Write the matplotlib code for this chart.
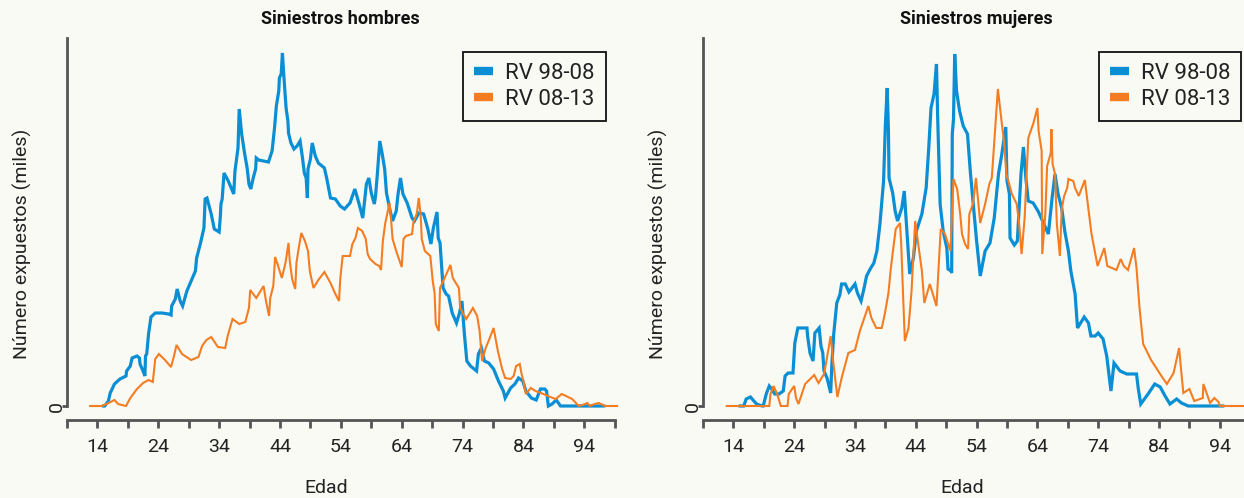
import matplotlib
matplotlib.use("Agg")
import matplotlib.pyplot as plt
from matplotlib.lines import Line2D

plt.rcParams['font.family'] = ['Roboto', 'DejaVu Sans']

# ---------------- data (thousands, arbitrary scale) ----------------
series_labels = ["RV 98-08", "RV 08-13"]
panel_titles = ["Siniestros hombres", "Siniestros mujeres"]
x_label = "Edad"
y_label = "Número expuestos (miles)"
x_ticks = list(range(9, 100, 5))
x_ticklabels = [str(t) if (t - 14) % 10 == 0 else "" for t in x_ticks]

# Hombres, RV 98-08
age_h_9808 = [
    15.0, 15.2, 15.8, 16.1, 16.8, 17.7, 18.7, 18.8, 19.4, 19.7,
    20.5, 20.9, 21.0, 21.5, 21.8, 21.9, 22.1, 22.4, 22.8, 23.5,
    24.6, 25.7, 26.1, 26.2, 26.8, 27.1, 27.6, 28.0, 28.7, 29.4,
    30.1, 30.3, 30.9, 31.5, 31.7, 32.0, 32.7, 33.2, 34.0, 34.2,
    34.3, 34.5, 34.8, 35.5, 36.4, 36.6, 37.1, 37.3, 37.7, 38.2,
    38.6, 38.9, 39.2, 39.6, 40.0, 40.1, 40.5, 42.1, 42.7, 43.1,
    43.4, 43.8, 43.9, 44.2, 44.4, 44.6, 45.0, 45.3, 45.4, 45.8,
    46.3, 46.8, 47.3, 47.7, 48.0, 48.3, 48.5, 48.6, 49.0, 49.3,
    49.8, 50.3, 51.3, 51.7, 52.3, 53.1, 53.9, 54.6, 55.5, 56.3,
    57.0, 57.6, 58.2, 58.6, 59.0, 59.5, 59.7, 60.0, 60.4, 60.8,
    61.2, 61.5, 62.0, 62.5, 63.1, 63.4, 63.8, 64.2, 64.9, 65.7,
    66.1, 66.8, 67.6, 68.3, 68.8, 69.2, 69.8, 70.0, 70.3, 70.8,
    71.3, 71.7, 72.3, 73.0, 73.5, 73.9, 74.3, 74.7, 75.3, 76.3,
    76.6, 77.1, 77.6, 78.3, 79.1, 79.9, 80.7, 81.0, 81.9, 82.6,
    83.2, 83.9, 84.4, 85.3, 86.1, 86.8, 87.5, 87.8, 88.1, 88.7,
    89.4, 90.1, 97.2]
exp_h_9808 = [
    0, 0, 5, 13, 22, 27, 30, 35, 40, 48,
    50, 48, 42, 35, 30, 50, 52, 72, 89, 93,
    93, 92, 91, 100, 107, 117, 105, 100, 115, 125,
    135, 148, 162, 178, 207, 208, 192, 177, 174, 190,
    202, 207, 233, 225, 212, 235, 258, 297, 272, 252,
    238, 222, 217, 228, 237, 248, 246, 244, 255, 278,
    300, 315, 328, 332, 353, 333, 298, 285, 273, 263,
    257, 260, 265, 248, 233, 228, 208, 237, 247, 263,
    250, 243, 238, 227, 208, 207, 200, 197, 203, 217,
    202, 188, 222, 228, 213, 202, 210, 232, 265, 252,
    237, 213, 198, 185, 195, 212, 228, 212, 203, 188,
    185, 193, 192, 177, 162, 178, 194, 168, 163, 118,
    112, 110, 93, 83, 93, 105, 72, 45, 40, 35,
    52, 58, 45, 43, 37, 25, 15, 8, 18, 22,
    28, 25, 15, 8, 6, 17, 17, 15, 0, 2,
    6, 0, 0]

# Hombres, RV 08-13
age_h_0813 = [
    12.8, 14.7, 15.5, 16.8, 17.4, 18.7, 19.4, 20.5, 21.5, 22.4,
    23.1, 23.5, 24.1, 25.1, 26.1, 26.5, 27.0, 27.9, 29.4, 30.6,
    31.2, 31.9, 32.7, 33.8, 35.0, 35.4, 36.2, 37.3, 38.3, 38.9,
    39.1, 40.1, 41.3, 41.7, 42.2, 42.4, 42.9, 43.2, 43.8, 44.3,
    44.9, 45.4, 45.6, 46.0, 46.5, 46.7, 47.0, 47.5, 48.1, 48.6,
    48.9, 49.5, 50.3, 51.3, 52.3, 53.1, 53.7, 53.9, 54.3, 55.5,
    55.9, 56.4, 56.8, 57.5, 58.1, 58.4, 58.8, 59.7, 60.3, 60.6,
    60.9, 61.3, 62.0, 62.3, 62.5, 63.2, 64.0, 64.3, 64.7, 65.7,
    65.9, 66.5, 66.8, 67.1, 67.3, 67.8, 68.7, 69.1, 69.4, 69.6,
    70.1, 70.3, 71.2, 72.0, 72.4, 73.4, 73.6, 74.6, 75.7, 76.4,
    76.8, 77.2, 77.8, 78.4, 79.1, 79.8, 80.5, 81.0, 81.9, 82.4,
    82.8, 83.4, 83.7, 84.0, 84.4, 85.2, 86.0, 87.3, 88.4, 89.3,
    90.3, 91.0, 92.0, 93.1, 93.7, 94.5, 94.9, 95.7, 96.4, 97.4,
    99.4]
exp_h_0813 = [
    0, 0, 2, 6, 2, 0, 8, 17, 23, 26,
    24, 47, 52, 46, 39, 48, 61, 52, 46, 49,
    60, 66, 69, 59, 58, 70, 87, 82, 84, 98,
    116, 108, 120, 105, 90, 108, 120, 149, 138, 128,
    143, 163, 145, 127, 117, 143, 155, 173, 165, 155,
    135, 118, 126, 134, 123, 112, 105, 127, 150, 150,
    162, 168, 178, 175, 167, 152, 147, 142, 140, 136,
    165, 183, 203, 183, 167, 153, 139, 167, 170, 172,
    183, 193, 208, 192, 167, 155, 150, 125, 113, 82,
    75, 118, 130, 141, 128, 118, 98, 87, 98, 90,
    75, 45, 58, 67, 78, 55, 37, 28, 27, 30,
    40, 42, 32, 25, 12, 18, 15, 12, 9, 7,
    12, 10, 7, 0, 1, 3, 0, 2, 3, 0,
    0]

# Mujeres, RV 98-08
age_m_9808 = [
    15.1, 15.7, 16.1, 16.8, 17.8, 18.7, 18.9, 19.4, 19.9, 20.3,
    20.8, 21.5, 22.2, 22.5, 23.0, 23.8, 24.1, 24.6, 26.1, 26.2,
    26.6, 27.1, 27.4, 28.1, 28.4, 28.7, 28.9, 29.4, 30.0, 30.2,
    30.5, 31.0, 31.5, 31.8, 32.4, 33.0, 34.0, 34.4, 35.0, 35.5,
    35.9, 36.5, 37.1, 37.6, 38.1, 38.7, 39.0, 39.3, 39.5, 39.6,
    40.2, 40.6, 41.0, 41.7, 42.1, 42.5, 43.0, 43.6, 44.1, 45.0,
    45.7, 46.1, 46.5, 47.0, 47.4, 47.6, 48.0, 48.5, 49.1, 49.3,
    49.8, 49.9, 50.0, 50.2, 50.4, 50.7, 51.2, 51.8, 52.5, 53.0,
    53.6, 54.0, 54.6, 55.4, 56.2, 56.9, 57.6, 58.1, 58.8, 59.0,
    59.4, 59.5, 60.2, 60.7, 61.3, 61.7, 62.1, 62.5, 63.3, 64.1,
    65.0, 65.8, 66.4, 66.9, 67.4, 68.0, 68.5, 69.1, 69.5, 70.2,
    70.6, 71.7, 72.4, 72.8, 73.5, 74.0, 74.8, 75.4, 75.7, 76.1,
    76.6, 77.6, 78.7, 80.3, 80.6, 81.0, 82.2, 83.3, 84.2, 85.0,
    85.8, 86.9, 87.7, 88.8, 94.5]
exp_m_9808 = [
    0, 0, 7, 9, 2, 0, 0, 12, 20, 17,
    12, 12, 15, 30, 33, 33, 63, 78, 78, 70,
    53, 45, 73, 78, 60, 53, 35, 28, 13, 42,
    72, 103, 111, 122, 122, 114, 122, 113, 105, 118,
    130, 137, 143, 155, 182, 225, 282, 318, 275, 228,
    213, 195, 185, 198, 215, 178, 132, 148, 175, 192,
    218, 255, 298, 312, 342, 288, 202, 175, 158, 137,
    135, 133, 272, 287, 352, 315, 295, 280, 272, 232,
    192, 165, 130, 155, 163, 188, 232, 250, 279, 225,
    212, 168, 161, 165, 232, 259, 228, 205, 203, 195,
    183, 172, 207, 232, 212, 198, 175, 155, 135, 112,
    78, 89, 83, 70, 70, 73, 67, 50, 35, 15,
    43, 35, 32, 32, 17, 2, 12, 22, 19, 10,
    2, 7, 3, 0, 0]

# Mujeres, RV 08-13
age_m_0813 = [
    12.9, 19.9, 20.1, 20.6, 21.2, 21.8, 22.9, 23.1, 24.0, 24.3,
    24.7, 25.8, 27.3, 28.0, 28.9, 29.3, 30.0, 30.4, 31.1, 31.8,
    32.9, 34.0, 34.8, 36.2, 36.7, 37.5, 38.4, 38.9, 39.5, 39.9,
    40.3, 40.7, 41.4, 41.6, 41.9, 42.2, 42.8, 43.3, 43.9, 44.4,
    45.0, 45.4, 46.3, 47.4, 48.1, 48.8, 49.7, 50.2, 50.8, 51.3,
    51.6, 52.1, 52.6, 52.8, 53.4, 53.9, 54.6, 55.4, 56.1, 56.5,
    57.5, 58.1, 58.5, 58.9, 59.8, 60.6, 61.0, 61.4, 61.9, 62.5,
    63.3, 64.0, 64.2, 64.7, 64.8, 65.3, 65.6, 66.2, 66.3, 66.5,
    66.9, 67.2, 67.7, 68.0, 68.4, 68.9, 69.1, 69.9, 70.2, 70.8,
    71.8, 72.9, 73.9, 75.0, 75.5, 77.0, 77.7, 78.2, 78.9, 79.9,
    80.3, 80.8, 81.4, 82.7, 84.4, 85.3, 86.4, 87.3, 88.0, 89.0,
    89.8, 91.2, 91.3, 92.4, 93.1, 93.8, 94.0, 99.5]
exp_m_0813 = [
    0, 0, 12, 20, 12, 0, 0, 12, 20, 8,
    2, 22, 31, 23, 32, 45, 70, 45, 9, 28,
    53, 56, 75, 100, 88, 78, 78, 92, 113, 138,
    158, 177, 183, 162, 112, 65, 78, 115, 185, 162,
    135, 103, 122, 100, 177, 172, 155, 227, 217, 192,
    172, 162, 157, 192, 202, 228, 183, 202, 222, 228,
    317, 285, 265, 232, 212, 202, 182, 152, 188, 268,
    282, 298, 275, 255, 152, 192, 240, 253, 277, 242,
    232, 182, 150, 197, 210, 218, 227, 225, 218, 210,
    226, 172, 140, 158, 140, 136, 147, 140, 136, 158,
    138, 98, 62, 46, 30, 22, 33, 58, 13, 17,
    5, 8, 22, 3, 8, 4, 0, 0]

# ---------------- style ----------------
BG = "#fafaf5"
BLUE = "#0a8fd5"
ORANGE = "#f47d22"
AXC = "#555555"
TXT = "#222222"
W, H = 1244, 498


def rect(x0, x1, ytop, ybot):
    return [x0 / W, 1 - ybot / H, (x1 - x0) / W, (ybot - ytop) / H]


fig = plt.figure(figsize=(W / 100, H / 100), dpi=100, facecolor=BG)

panels = [
    (rect(67, 614.7, 38, 410), panel_titles[0],
     (age_h_9808, exp_h_9808), (age_h_0813, exp_h_0813)),
    (rect(703, 1250.2, 38, 410), panel_titles[1],
     (age_m_9808, exp_m_9808), (age_m_0813, exp_m_0813)),
]

for pos, title, s1, s2 in panels:
    ax = fig.add_axes(pos)
    ax.set_facecolor(BG)
    ax.plot(s1[0], s1[1], color=BLUE, lw=2.3, solid_joinstyle="miter", clip_on=False)
    ax.plot(s2[0], s2[1], color=ORANGE, lw=1.5, solid_joinstyle="miter", clip_on=False)
    ax.set_xlim(9, 99)
    ax.set_ylim(-4, 368)

    for s in ("top", "right"):
        ax.spines[s].set_visible(False)
    ax.spines["left"].set_bounds(0, 368)
    ax.spines["left"].set_color(AXC)
    ax.spines["left"].set_linewidth(2.0)
    ax.spines["bottom"].set_position(("outward", 7.5))
    ax.spines["bottom"].set_bounds(9, 99)
    ax.spines["bottom"].set_color(AXC)
    ax.spines["bottom"].set_linewidth(2.0)

    ax.set_xticks(x_ticks)
    ax.set_xticklabels(x_ticklabels)
    ax.set_yticks([0])
    ax.set_yticklabels(["0"])
    ax.tick_params(axis="x", length=5.5, width=2.0, color=AXC, pad=7,
                   labelsize=14, labelcolor=TXT)
    ax.tick_params(axis="y", length=3.5, width=2.0, color=AXC, pad=-2.5,
                   labelsize=14, labelcolor=TXT, labelrotation=90)
    for lbl in ax.get_yticklabels():
        lbl.set_va("center")

    ax.set_title(title, fontsize=13, fontweight="bold", color="#111111", pad=10)
    ax.set_xlabel(x_label, fontsize=14, color=TXT)
    ax.xaxis.set_label_coords(0.473, -0.21)
    ax.xaxis.label.set_va("center")
    ax.set_ylabel(y_label, fontsize=14, color=TXT)
    ax.yaxis.set_label_coords(-0.082, 0.446)
    ax.yaxis.label.set_va("center")

    handles = [Line2D([0], [0], color=BLUE, lw=6, solid_capstyle="butt"),
               Line2D([0], [0], color=ORANGE, lw=6, solid_capstyle="butt")]
    leg = ax.legend(handles, series_labels, loc="upper right",
                    bbox_to_anchor=(0.984, 0.962), borderaxespad=0,
                    fontsize=16, frameon=True, fancybox=False,
                    handlelength=0.85, handletextpad=0.55, borderpad=0.5,
                    labelspacing=0.2)
    fr = leg.get_frame()
    fr.set_edgecolor("#111111")
    fr.set_linewidth(1.3)
    fr.set_facecolor(BG)
    fr.set_alpha(1)
    for t in leg.get_texts():
        t.set_color(TXT)

fig.savefig("out.png", dpi=100, facecolor=BG)
